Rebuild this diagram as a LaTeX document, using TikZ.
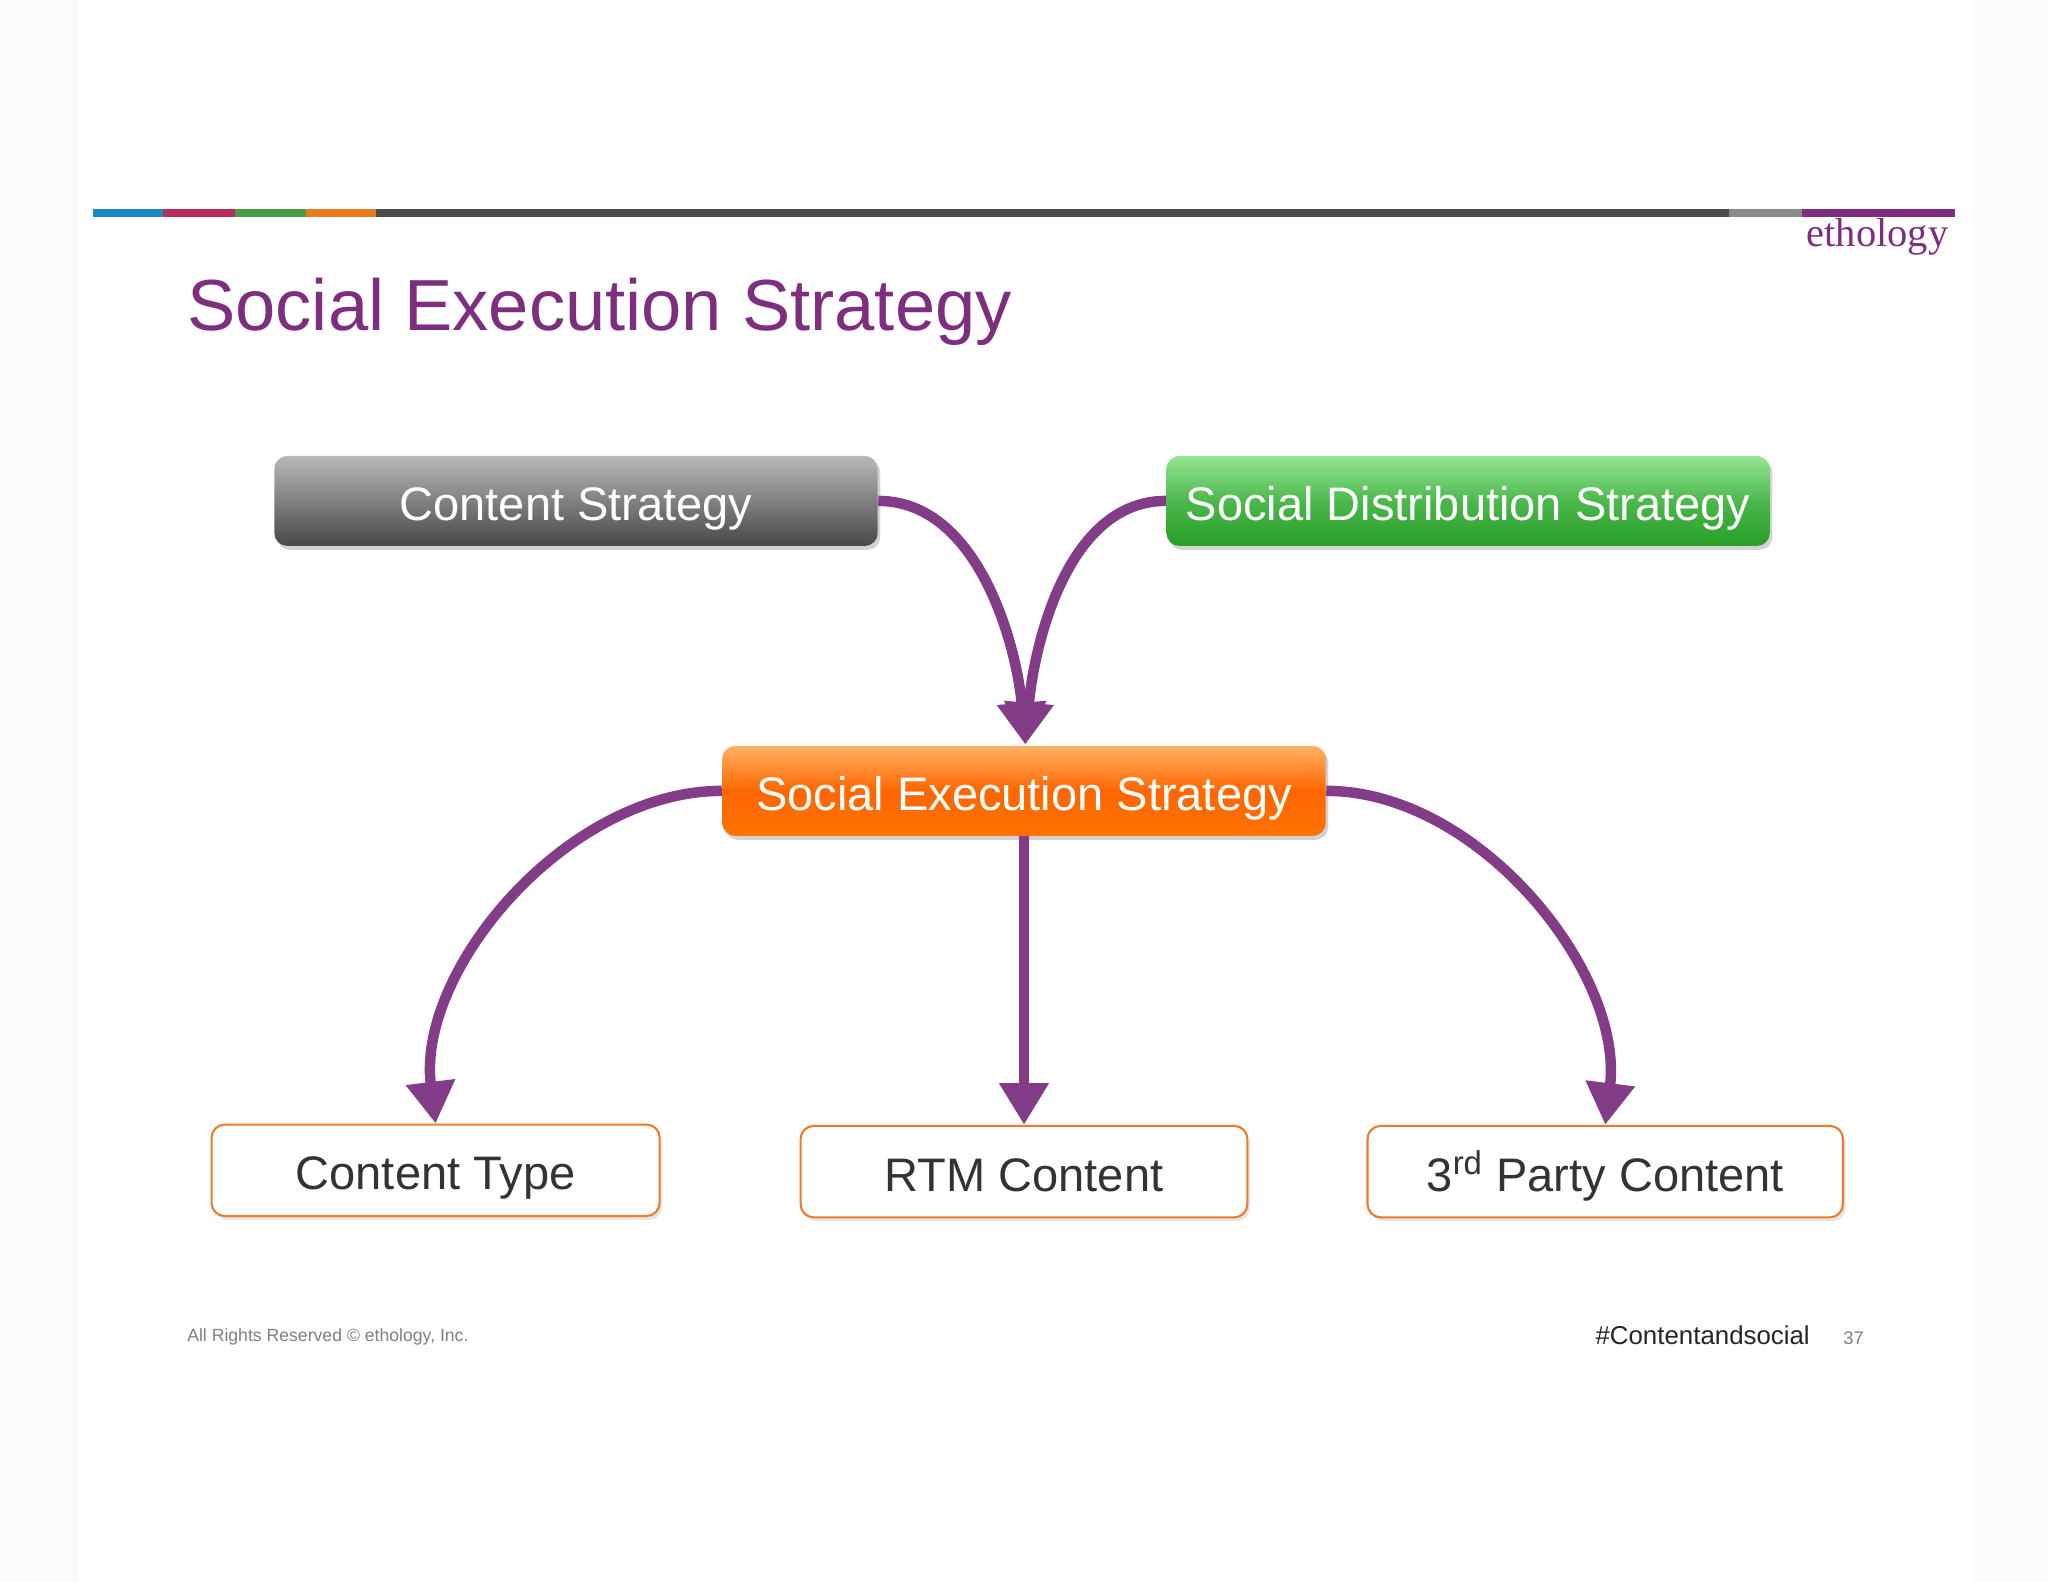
\documentclass[tikz,border=0pt]{standalone}
\usepackage{fontspec}
\setmainfont{Liberation Sans}
\newfontfamily\serifk{Liberation Serif}
\usetikzlibrary{arrows.meta,shadows}
\definecolor{purp}{HTML}{7E2E7E}
\definecolor{arr}{HTML}{833C87}
\definecolor{org}{HTML}{F07A2A}
\definecolor{c1}{HTML}{1A8AC6}
\definecolor{c2}{HTML}{B82A5A}
\definecolor{c3}{HTML}{4C9A47}
\definecolor{c4}{HTML}{EE7A1E}
\definecolor{c5}{HTML}{4A4A4A}
\definecolor{c6}{HTML}{8A8A8A}
\definecolor{c7}{HTML}{7E2E7E}
\begin{document}
\begin{tikzpicture}[x=0.5pt,y=-0.5pt,
 top/.style={rounded corners=5pt,minimum width=231pt,minimum height=34.5pt,text height=15pt,text depth=0pt,text=white,font=\fontsize{18}{20}\selectfont,drop shadow={opacity=0.35,shadow xshift=1pt,shadow yshift=-1.5pt}},
 bot/.style={rounded corners=5pt,draw=org,line width=0.8pt,fill=white,minimum height=35pt,text height=15pt,text depth=0pt,font=\fontsize{18}{20}\selectfont,text=black!80,drop shadow={opacity=0.2,shadow xshift=1pt,shadow yshift=-1.5pt}},
 ar/.style={draw=arr,line width=4pt,-{Triangle[width=18pt,length=16pt]}}]
\useasboundingbox (0,0) rectangle (1568,1211);
\fill[white!97!gray] (0,0) rectangle (1568,1211);
\fill[white] (60,0) rectangle (1510,1211);
% colour bar
\foreach \a/\b/\c in {71/125/c1,125/180/c2,180/234/c3,234/288/c4,288/1324/c5,1324/1380/c6,1380/1497/c7}
 {\fill[\c] (\a,160) rectangle (\b,166);}
\node[anchor=east,text=purp,font=\serifk\fontsize{15.5}{17}\selectfont,inner sep=0] (eth) at (1492,181) {ethology};
\node[anchor=base west,text=purp,font=\fontsize{27.7}{30}\selectfont,inner sep=0] (title) at (143,253) {Social Execution Strategy};
% top boxes
\node[top,top color=gray!55,bottom color=black!72] (cs) at (441,383.5) {Content Strategy};
\node[top,top color=green!35!white!90!black,bottom color=green!55!black!85,middle color=green!60!black!70] (sd) at (1124,383.5) {Social Distribution Strategy};
\node[top,top color=orange!60!white,bottom color=orange!90!red,middle color=orange!80!red] (ses) at (784,605.5) {Social Execution Strategy};
% bottom boxes
\node[bot,minimum width=171.5pt] (ct) at (333.5,896) {Content Type};
\node[bot,minimum width=171pt] (rtm) at (784,897) {RTM Content};
\node[bot,minimum width=182pt] (tp) at (1229,897) {3\textsuperscript{rd} Party Content};
% arrows
\coordinate (m) at (785,570);
\draw[ar] (cs.east) to[out=0,in=95,looseness=0.9] (m);
\draw[ar] (sd.west) to[out=180,in=85,looseness=0.9] (m);
\draw[ar] (ses.west) to[out=180,in=97,looseness=0.9] (ct.north);
\draw[ar] (ses.south) -- (rtm.north);
\draw[ar] (ses.east) to[out=0,in=83,looseness=0.9] (tp.north);
% footer
\node[anchor=base west,text=gray,font=\fontsize{6.75}{8}\selectfont,inner sep=0] (f1) at (143,1027) {All Rights Reserved © ethology, Inc.};
\node[anchor=base east,text=black!85,font=\fontsize{9.9}{11}\selectfont,inner sep=0] (f2) at (1386,1029) {\#Contentandsocial};
\node[anchor=base west,text=gray,font=\fontsize{7}{8}\selectfont,inner sep=0] (f3) at (1411,1029) {37};
\end{tikzpicture}
\end{document}
